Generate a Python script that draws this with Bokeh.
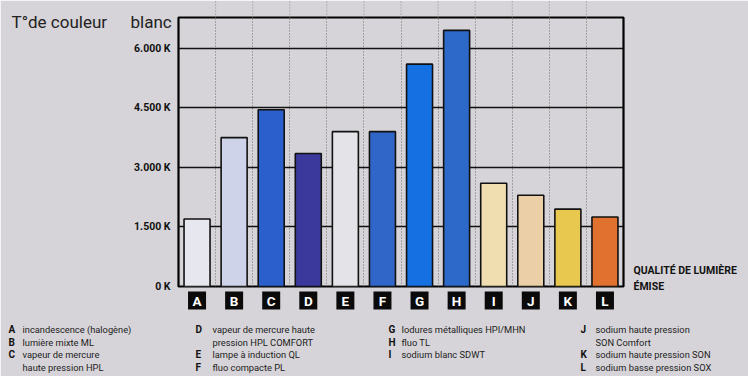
from bokeh.plotting import figure
from bokeh.models import FixedTicker
from bokeh.embed import file_html
from bokeh.resources import INLINE
from bokeh.core.properties import value

# ---- data ----
letters = ["A", "B", "C", "D", "E", "F", "G", "H", "I", "J", "K", "L"]
temps = [1700, 3750, 4450, 3350, 3900, 3900, 5600, 6450, 2600, 2300, 1950, 1750]
colors = ["#e7e7ef", "#cfd3ea", "#2b5fcb", "#3b3a9c", "#e4e4e8", "#3066c8",
          "#1570e2", "#2d69c9", "#f0deb0", "#ebcfa6", "#e9c84f", "#e0712f"]
yticks = [0, 1500, 3000, 4500, 6000]
ytick_labels = ["0 K", "1.500 K", "3.000 K", "4.500 K", "6.000 K"]

leg_col1_letters = ["A", "B", "C", ""]
leg_col1_texts = ["incandescence (halogène)", "lumière mixte ML", "vapeur de mercure", "haute pression HPL"]
leg_col2_letters = ["D", "", "E", "F"]
leg_col2_texts = ["vapeur de mercure haute", "pression HPL COMFORT", "lampe à induction QL", "fluo compacte PL"]
leg_col3_letters = ["G", "H", "I"]
leg_col3_texts = ["Iodures métalliques HPI/MHN", "fluo TL", "sodium blanc SDWT"]
leg_col4_letters = ["J", "", "K", "L"]
leg_col4_texts = ["sodium haute pression", "SON Comfort", "sodium haute pression SON", "sodium basse pression SOX"]

# ---- layout helpers ----
W, H = 748, 376
FL, FR, FT, FB = 178, 623, 17, 286
YMAX = 6775
n = len(letters)
px_per_x = (FR - FL) / n
val_per_px = YMAX / (FB - FT)

def dx(px):
    return (px - FL) / px_per_x

def dy(py):
    return (FB - py) * val_per_px

BG = "#d6d4d8"
FONT = "Roboto"

p = figure(width=W, height=H, x_range=(0, n), y_range=(0, YMAX),
           output_backend="svg", toolbar_location=None,
           min_border_left=FL, min_border_right=W - FR,
           min_border_top=FT, min_border_bottom=H - FB)
p.background_fill_color = BG
p.border_fill_color = BG
p.outline_line_color = "black"
p.outline_line_width = 2.2

p.xaxis.visible = False
ya = p.yaxis[0]
ya.ticker = FixedTicker(ticks=yticks)
ya.major_label_overrides = {t: l for t, l in zip(yticks, ytick_labels)}
ya.axis_line_color = None
ya.major_tick_line_color = None
ya.minor_tick_line_color = None
ya.major_tick_out = 0
ya.major_tick_in = 0
ya.major_label_standoff = 8
ya.major_label_text_font = FONT
ya.major_label_text_font_style = "bold"
ya.major_label_text_font_size = "10.5px"
ya.major_label_text_color = "#111111"

p.ygrid.ticker = FixedTicker(ticks=yticks[1:])
p.ygrid.grid_line_color = "#111111"
p.ygrid.grid_line_width = 1.5
p.xgrid.ticker = FixedTicker(ticks=list(range(1, n)))
p.xgrid.grid_line_color = "#6f6f6f"
p.xgrid.grid_line_width = 1
p.xgrid.grid_line_dash = "1 2"

# dotted separators continue above the frame
bounds = list(range(1, n))
p.segment(x0=bounds, y0=[YMAX] * len(bounds), x1=bounds, y1=[dy(0)] * len(bounds),
          line_color="#8a8a8a", line_width=1, line_dash="1 2", level="overlay")

centers = [i + 0.5 for i in range(n)]
p.vbar(x=centers, top=temps, bottom=0, width=26 / px_per_x,
       fill_color=colors, line_color="#111111", line_width=1.6)

# letter boxes under the bars
box_y = [dy(300)] * n
p.rect(x=centers, y=box_y, width=18, height=18, width_units="screen",
       height_units="screen", fill_color="#0a0a0a", line_color=None, level="overlay")
p.text(x=centers, y=box_y, text=letters, text_align="center", text_baseline="middle",
       text_color="white", text_font=value(FONT), text_font_style="bold",
       text_font_size="13.5px", level="overlay")

# titles
p.text(x=[dx(11)], y=[dy(21)], text=["T°de couleur"], text_align="left",
       text_baseline="middle", text_color="#222222", text_font=value(FONT),
       text_font_size="17px", level="overlay")
p.text(x=[dx(130)], y=[dy(21)], text=["blanc"], text_align="left",
       text_baseline="middle", text_color="#222222", text_font=value(FONT),
       text_font_size="17px", level="overlay")
p.text(x=[dx(633), dx(633)], y=[dy(270), dy(286)], text=["QUALITÉ DE LUMIÈRE", "ÉMISE"],
       text_align="left", text_baseline="middle", text_color="#111111",
       text_font=value(FONT), text_font_style="bold", text_font_size="10.5px",
       level="overlay")

# legend
row_y = [329, 341.5, 354, 366.5]
cols = [
    (leg_col1_letters, leg_col1_texts, 8, 22),
    (leg_col2_letters, leg_col2_texts, 195, 212),
    (leg_col3_letters, leg_col3_texts, 388, 401),
    (leg_col4_letters, leg_col4_texts, 580, 595),
]
for lets, texts, lx, tx in cols:
    k = len(texts)
    p.text(x=[dx(lx)] * k, y=[dy(v) for v in row_y[:k]], text=lets, text_align="left",
           text_baseline="middle", text_color="#111111", text_font=value(FONT),
           text_font_style="bold", text_font_size="10px", level="overlay")
    p.text(x=[dx(tx)] * k, y=[dy(v) for v in row_y[:k]], text=texts, text_align="left",
           text_baseline="middle", text_color="#222222", text_font=value(FONT),
           text_font_size="9.3px", level="overlay")

open("out.html", "w").write(file_html(p, INLINE))
